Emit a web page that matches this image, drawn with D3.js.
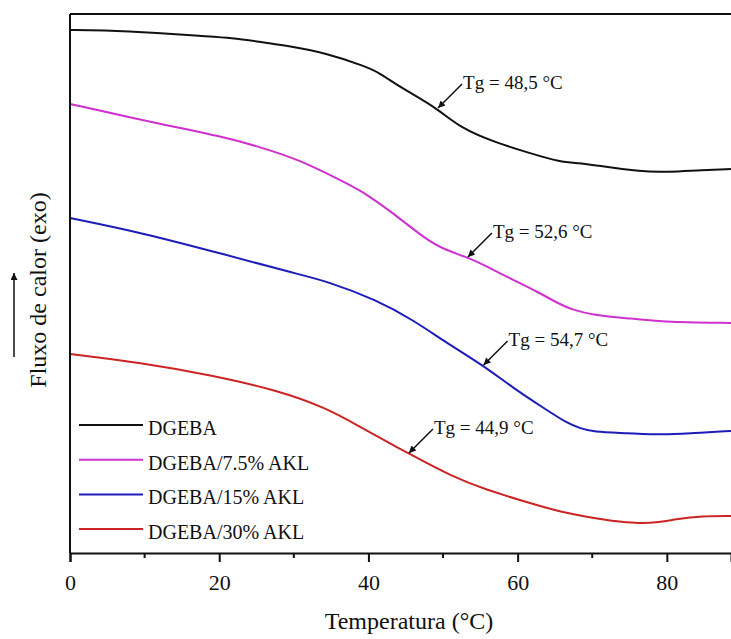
<!DOCTYPE html>
<html>
<head>
<meta charset="utf-8">
<script src="https://cdn.jsdelivr.net/npm/d3@7"></script>
<style>
  body { margin: 0; background: #fff; }
  text { font-family: "Liberation Serif", "Times New Roman", serif; fill: #111; }
</style>
</head>
<body>
<div id="chart"></div>
<script>
// DSC curves, heat flow in arbitrary units (exo up)
const seriesNames = ["DGEBA", "DGEBA/7.5% AKL", "DGEBA/15% AKL", "DGEBA/30% AKL"];
const seriesColors = ["#111111", "#cf30cf", "#1c1cb8", "#cc2424"];

const tempDGEBA = [0, 4.0, 12.1, 17.4, 21.8, 25.5, 28.5, 34.4, 39.8, 41.5, 44.2, 49.2, 52.3, 57.2, 61.6, 65.7, 68.3, 70.1, 76.8, 80.0, 84.8, 88.6];
const flowDGEBA = [523, 523, 520, 517, 515, 511, 508, 500, 486, 480, 466, 445, 425, 410, 400, 391, 390, 388, 381, 381, 383, 384];

const temp75 = [0, 12.1, 20.1, 25.5, 30.8, 36.2, 38.9, 43.3, 47.8, 50.3, 53.2, 56.3, 58.6, 63.0, 65.3, 67.4, 70.1, 74.6, 79.1, 88.6];
const flow75 = [449, 429, 417, 406, 393, 373, 363, 340, 313, 303, 296, 285, 276, 260, 250, 243, 238, 235, 231, 230];

const temp15 = [0, 9.8, 21.0, 29.9, 34.4, 41.1, 46.0, 50.5, 55.3, 59.4, 63.9, 66.6, 68.3, 70.1, 74.6, 79.5, 83.5, 88.6];
const flow15 = [335, 320, 298, 280, 272, 253, 233, 210, 188, 165, 143, 130, 125, 121, 120, 118, 120, 122];

const temp30 = [0, 9.8, 18.8, 27.7, 34.4, 38.9, 43.3, 45.3, 51.3, 55.9, 60.3, 64.7, 69.3, 73.7, 77.7, 81.3, 84.8, 88.6];
const flow30 = [199, 190, 178, 163, 145, 126, 108, 100, 76, 63, 53, 43, 36, 31, 29, 34, 37, 37];

const tgLabels = ["Tg = 48,5 °C", "Tg = 52,6 °C", "Tg = 54,7 °C", "Tg = 44,9 °C"];
const tgTipTemp = [49.2, 53.2, 55.3, 45.3];
const tgTipFlow = [445, 296, 188, 100];

const xTicks = [0, 20, 40, 60, 80];
const xMinorTicks = [10, 30, 50, 70];

const width = 731, height = 639;
const plotLeft = 70, plotTop = 14, plotBottom = 553, plotRight = 731;

const svg = d3.select("#chart").append("svg")
    .attr("width", width)
    .attr("height", height);

const x = d3.scaleLinear().domain([0, 88.6]).range([plotLeft, plotRight]);
const y = d3.scaleLinear().domain([0, 539]).range([plotBottom, plotTop]);

const series = [
    {temps: tempDGEBA, flows: flowDGEBA},
    {temps: temp75, flows: flow75},
    {temps: temp15, flows: flow15},
    {temps: temp30, flows: flow30}
];

const line = d3.line()
    .x(d => x(d[0]))
    .y(d => y(d[1]))
    .curve(d3.curveBasis);

svg.selectAll("path.curve")
    .data(series)
    .join("path")
        .attr("class", "curve")
        .attr("d", s => line(s.temps.map((t, i) => [t, s.flows[i]])))
        .attr("fill", "none")
        .attr("stroke", (s, i) => seriesColors[i])
        .attr("stroke-width", 2);

// frame: top line + left axis
svg.append("line")
    .attr("x1", plotLeft).attr("x2", plotRight)
    .attr("y1", plotTop).attr("y2", plotTop)
    .attr("stroke", "#111").attr("stroke-width", 2);
svg.append("line")
    .attr("x1", plotLeft).attr("x2", plotLeft)
    .attr("y1", plotTop).attr("y2", plotBottom)
    .attr("stroke", "#111").attr("stroke-width", 2);

// x axis
const xAxis = svg.append("g")
    .attr("transform", `translate(0,${plotBottom})`)
    .call(d3.axisBottom(x).tickValues(xTicks).tickSize(9).tickPadding(12).tickFormat(d3.format("d")));
xAxis.select(".domain").attr("stroke", "#111").attr("stroke-width", 2);
xAxis.selectAll(".tick line").attr("stroke", "#111").attr("stroke-width", 2);
xAxis.selectAll(".tick text")
    .style("font-family", '"Liberation Serif", "Times New Roman", serif')
    .style("font-size", "22px")
    .attr("fill", "#111");

svg.append("g")
    .selectAll("line")
    .data(xMinorTicks)
    .join("line")
        .attr("x1", d => x(d)).attr("x2", d => x(d))
        .attr("y1", plotBottom).attr("y2", plotBottom + 5)
        .attr("stroke", "#111").attr("stroke-width", 2);

svg.append("text")
    .attr("x", 409)
    .attr("y", 629)
    .attr("text-anchor", "middle")
    .style("font-size", "24px")
    .text("Temperatura (°C)");

svg.append("text")
    .attr("transform", "translate(46,290) rotate(-90)")
    .attr("text-anchor", "middle")
    .style("font-size", "24px")
    .text("Fluxo de calor (exo)");

// arrow markers
const defs = svg.append("defs");
defs.append("marker")
    .attr("id", "head")
    .attr("viewBox", "0 0 10 10")
    .attr("refX", 10).attr("refY", 5)
    .attr("markerWidth", 11).attr("markerHeight", 7)
    .attr("markerUnits", "userSpaceOnUse")
    .attr("orient", "auto")
  .append("path")
    .attr("d", "M0,0 L10,5 L0,10 z")
    .attr("fill", "#111");

svg.append("line")
    .attr("x1", 14).attr("x2", 14)
    .attr("y1", 357).attr("y2", 273)
    .attr("stroke", "#111").attr("stroke-width", 1.5)
    .attr("marker-end", "url(#head)");

// Tg annotations
const notes = svg.selectAll("g.note")
    .data(tgLabels)
    .join("g")
        .attr("class", "note")
        .attr("transform", (d, i) => `translate(${x(tgTipTemp[i])},${y(tgTipFlow[i])})`);

notes.append("line")
    .attr("x1", 25).attr("y1", -24)
    .attr("x2", 1).attr("y2", 0)
    .attr("stroke", "#111").attr("stroke-width", 1.5)
    .attr("marker-end", "url(#head)");

notes.append("text")
    .attr("x", 26)
    .attr("y", -19)
    .style("font-size", "19px")
    .text(d => d);

// legend
const legend = svg.selectAll("g.legend")
    .data(seriesNames)
    .join("g")
        .attr("class", "legend")
        .attr("transform", (d, i) => `translate(79,${425 + i * 34.7})`);

legend.append("line")
    .attr("x1", 0).attr("x2", 64)
    .attr("stroke", (d, i) => seriesColors[i])
    .attr("stroke-width", 2);

legend.append("text")
    .attr("x", 69)
    .attr("y", 10)
    .style("font-size", "20px")
    .text(d => d);
</script>
</body>
</html>
